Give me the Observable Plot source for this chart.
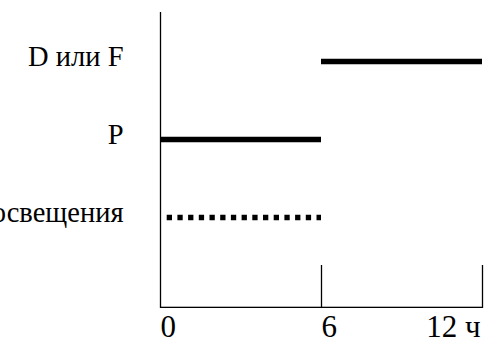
<!DOCTYPE html>
<html>
<head>
<meta charset="utf-8">
<script src="https://cdn.jsdelivr.net/npm/d3@7"></script>
<script src="https://cdn.jsdelivr.net/npm/@observablehq/plot@0.6"></script>
<style>
  html, body { margin: 0; padding: 0; background: #fff; }
  #chart { width: 484px; height: 343px; overflow: hidden; }
  #chart svg, #chart svg text { font-family: "Liberation Serif", "Times New Roman", serif !important; }
</style>
</head>
<body>
<div id="chart"></div>
<script>
// Phases (rows), start and end of each segment in hours
const phases = ["D или F", "P", "Время освещения"];
const starts = [6, 0, 0];
const ends = [12, 6, 6];
const dotted = [false, false, true];
// X tick values and labels
const tickValues = [0, 6, 12];
const tickLabels = ["0", "6", "12 ч"];

const segments = phases.map((p, i) => ({phase: p, start: starts[i], end: ends[i], dotted: dotted[i]}));
const ticks = tickValues.map((v, i) => ({v, label: tickLabels[i]}));

const chart = Plot.plot({
  width: 484,
  height: 343,
  marginLeft: 160,
  marginRight: 2,
  marginTop: 12,
  marginBottom: 35,
  style: {fontFamily: "'Liberation Serif', serif", fontSize: "24px", background: "white", color: "black", overflow: "visible"},
  x: {domain: [0, 12], axis: null},
  y: {type: "point", domain: phases, range: [60, 217], padding: 0, axis: null},
  marks: [
    Plot.ruleX([0], {stroke: "black", strokeWidth: 1.3}),
    Plot.ruleX(tickValues.slice(1), {stroke: "black", strokeWidth: 1.3, insetTop: 253}),
    Plot.rect([0], {x1: 0, x2: 12, insetTop: 294.7, fill: "black"}),
    Plot.ruleY(segments.filter(d => !d.dotted), {y: "phase", x1: "start", x2: "end", stroke: "black", strokeWidth: 5.5}),
    Plot.ruleY(segments.filter(d => d.dotted), {y: "phase", x1: "start", x2: "end", stroke: "black", strokeWidth: 5.5, strokeDasharray: "5.3,5.4", insetLeft: 6.7}),
    Plot.text(segments, {y: "phase", text: "phase", frameAnchor: "left", textAnchor: "end", dx: -37, dy: -5, fontSize: 28.5, fill: "black"}),
    Plot.text(ticks.filter(d => d.v < 12), {x: "v", text: "label", frameAnchor: "bottom", lineAnchor: "top", textAnchor: "start", dy: 6, fontSize: 31}),
    Plot.text(ticks.filter(d => d.v === 12), {x: "v", text: "label", frameAnchor: "bottom", lineAnchor: "top", textAnchor: "end", dy: 6, dx: -2, fontSize: 31})
  ]
});
document.getElementById("chart").append(chart);
</script>
</body>
</html>
